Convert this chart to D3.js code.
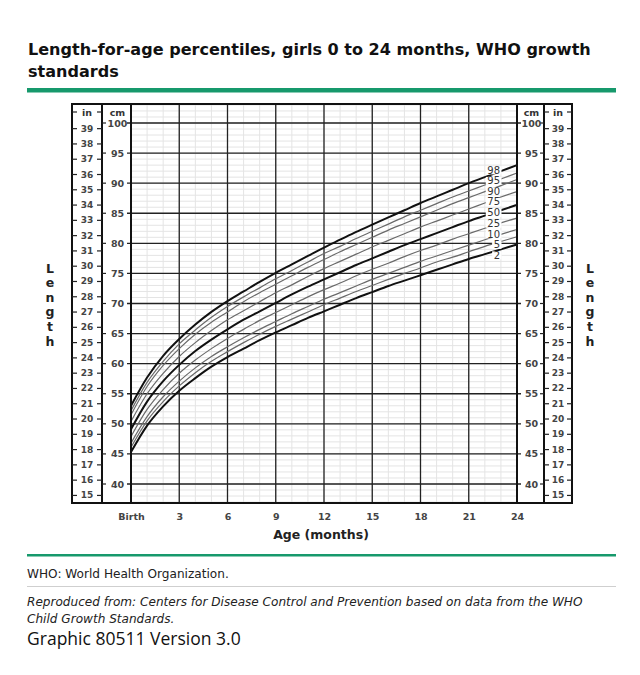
<!DOCTYPE html>
<html>
<head>
<meta charset="utf-8">
<script src="https://cdn.jsdelivr.net/npm/d3@7"></script>
<style>
body { margin: 0; background: #fff; }
svg { display: block; }
</style>
</head>
<body>
<svg id="chart" width="640" height="675"></svg>
<script>
// age in months
var months = [0,1,2,3,4,5,6,7,8,9,10,11,12,13,14,15,16,17,18,19,20,21,22,23,24];

// length (cm) per percentile
var p2  = [45.3,49.7,52.9,55.5,57.6,59.5,61.1,62.5,63.9,65.2,66.4,67.6,68.7,69.8,70.9,71.9,72.9,73.8,74.7,75.6,76.5,77.4,78.2,79.0,79.8];
var p5  = [46.1,50.5,53.7,56.3,58.5,60.4,62.0,63.5,64.9,66.2,67.4,68.6,69.8,70.9,72.0,73.0,74.0,75.0,75.9,76.9,77.7,78.6,79.5,80.3,81.1];
var p10 = [46.8,51.2,54.5,57.1,59.3,61.2,62.8,64.3,65.7,67.0,68.3,69.5,70.7,71.8,72.9,74.0,75.0,76.0,77.0,77.9,78.8,79.7,80.6,81.5,82.3];
var p25 = [47.9,52.4,55.7,58.4,60.6,62.5,64.2,65.7,67.2,68.5,69.8,71.1,72.3,73.4,74.6,75.7,76.7,77.8,78.8,79.7,80.7,81.6,82.5,83.4,84.2];
var p50 = [49.1,53.7,57.1,59.8,62.1,64.0,65.7,67.3,68.7,70.1,71.5,72.8,74.0,75.2,76.4,77.5,78.6,79.7,80.7,81.7,82.7,83.7,84.6,85.5,86.4];
var p75 = [50.4,55.0,58.4,61.2,63.5,65.5,67.3,68.8,70.3,71.8,73.1,74.5,75.8,77.0,78.2,79.4,80.5,81.6,82.7,83.7,84.7,85.7,86.7,87.7,88.6];
var p90 = [51.5,56.2,59.7,62.5,64.9,66.9,68.6,70.3,71.8,73.2,74.6,76.0,77.3,78.6,79.8,81.0,82.2,83.3,84.4,85.5,86.6,87.6,88.6,89.6,90.6];
var p95 = [52.2,56.9,60.4,63.3,65.6,67.7,69.5,71.1,72.6,74.1,75.5,76.9,78.3,79.5,80.8,82.0,83.2,84.4,85.5,86.6,87.7,88.7,89.7,90.7,91.7];
var p98 = [53.0,57.7,61.3,64.1,66.5,68.6,70.4,72.0,73.6,75.1,76.5,77.9,79.3,80.6,81.9,83.1,84.3,85.5,86.7,87.8,88.9,90.0,91.0,92.0,93.0];

var pctNames = ["2","5","10","25","50","75","90","95","98"];
var pctValues = [p2, p5, p10, p25, p50, p75, p90, p95, p98];
var boldCurves = ["2","50","98"];

// tick labels
var xTicks = [0,3,6,9,12,15,18,21,24];
var cmTicks = [40,45,50,55,60,65,70,75,80,85,90,95,100];
var inTicks = [15,16,17,18,19,20,21,22,23,24,25,26,27,28,29,30,31,32,33,34,35,36,37,38,39];

var titleLines = ["Length-for-age percentiles, girls 0 to 24 months, WHO growth", "standards"];
var yLabel = "Length";

var font = "Verdana, 'DejaVu Sans', sans-serif";
var green = "#17996c";

var svg = d3.select("#chart");

function fitWidth(sel, w) {
    var len = sel.node().getComputedTextLength();
    var fs = parseFloat(sel.attr("font-size"));
    sel.attr("font-size", fs * w / len);
}

// title
var t1 = svg.append("text").attr("x", 28).attr("y", 55)
    .attr("font-family", font).attr("font-weight", "bold").attr("font-size", 17)
    .attr("fill", "#111").text(titleLines[0]);
fitWidth(t1, 563);
svg.append("text").attr("x", 28).attr("y", 77)
    .attr("font-family", font).attr("font-weight", "bold").attr("font-size", t1.attr("font-size"))
    .attr("fill", "#111").text(titleLines[1]);

svg.append("rect").attr("x", 27).attr("y", 88).attr("width", 589).attr("height", 4.5).attr("fill", green);

// frame geometry
var frameL = 72, frameR = 572, frameT = 104, frameB = 503;
var inL = 72, inR = 102, cmL = 102, plotL = 131, plotR = 517, cmR2 = 544, inR2 = 572;

var x = d3.scaleLinear().domain([0, 24]).range([plotL, plotR]);
var y = d3.scaleLinear().domain([40, 100]).range([484, 123]);
var yIn = d3.scaleLinear().domain([40 / 2.54, 100 / 2.54]).range([y(40), y(100)]);

var g = svg.append("g");

// minor grid
var cmMin = Math.ceil(y.invert(frameB)), cmMax = Math.floor(y.invert(frameT));
g.append("g").selectAll("line").data(d3.range(cmMin, cmMax + 1)).join("line")
    .attr("x1", plotL).attr("x2", plotR)
    .attr("y1", d => y(d)).attr("y2", d => y(d))
    .attr("stroke", "#e4e4e4").attr("stroke-width", 1);
g.append("g").selectAll("line").data(months).join("line")
    .attr("x1", d => x(d)).attr("x2", d => x(d))
    .attr("y1", frameT).attr("y2", frameB)
    .attr("stroke", "#e4e4e4").attr("stroke-width", 1);

// major grid
g.append("g").selectAll("line").data(cmTicks).join("line")
    .attr("x1", plotL - 4).attr("x2", plotR + 4)
    .attr("y1", d => y(d)).attr("y2", d => y(d))
    .attr("stroke", "#222").attr("stroke-width", 1.3);
g.append("g").selectAll("line").data(xTicks.slice(1, -1)).join("line")
    .attr("x1", d => x(d)).attr("x2", d => x(d))
    .attr("y1", frameT).attr("y2", frameB)
    .attr("stroke", "#222").attr("stroke-width", 1.3);

// curves
var line = d3.line().x((d, i) => x(months[i])).y(d => y(d)).curve(d3.curveMonotoneX);
var curves = g.append("g");
pctNames.forEach(function (name, k) {
    var bold = boldCurves.indexOf(name) >= 0;
    curves.append("path").datum(pctValues[k])
        .attr("d", line)
        .attr("fill", "none")
        .attr("stroke", bold ? "#111" : "#6a6a6a")
        .attr("stroke-width", bold ? 2 : 1.2);
});

// curve labels near the right edge, spread apart so they don't overlap
var minGap = 10.5;
var labs = pctNames.map(function (name, k) {
    var v = pctValues[k];
    return { name: name, y: y((v[22] + v[23]) / 2) };
});
for (var it = 0; it < 400; it++) {
    for (var i = 0; i < labs.length - 1; i++) {
        var gap = labs[i].y - labs[i + 1].y;
        if (gap < minGap) {
            var push = (minGap - gap) / 2 + 0.01;
            labs[i].y += push;
            labs[i + 1].y -= push;
        }
    }
}
var labG = g.append("g");
labs.forEach(function (d) {
    var t = labG.append("text")
        .attr("x", 500).attr("y", d.y)
        .attr("text-anchor", "end").attr("dominant-baseline", "central")
        .attr("font-family", font).attr("font-size", 10).attr("fill", "#333")
        .text(d.name);
    var bb = t.node().getBBox();
    labG.insert("rect", "text").attr("x", bb.x - 1.5).attr("y", d.y - 4)
        .attr("width", bb.width + 3).attr("height", 8).attr("fill", "#fff");
});

// frame and column dividers
g.append("rect").attr("x", frameL).attr("y", frameT)
    .attr("width", frameR - frameL).attr("height", frameB - frameT)
    .attr("fill", "none").attr("stroke", "#111").attr("stroke-width", 2);
[inR, plotL, plotR, cmR2].forEach(function (xx) {
    g.append("line").attr("x1", xx).attr("x2", xx).attr("y1", frameT).attr("y2", frameB)
        .attr("stroke", "#111").attr("stroke-width", 2);
});

// side scales
function sideLabels(cx, ticks, scale, fs) {
    g.append("g").selectAll("text").data(ticks).join("text")
        .attr("x", cx).attr("y", d => scale(d))
        .attr("text-anchor", "middle").attr("dominant-baseline", "central")
        .attr("font-family", font).attr("font-weight", "bold").attr("font-size", fs)
        .attr("fill", "#444").text(d => d);
}
function sideTicks(x1, x2, ticks, scale) {
    g.append("g").selectAll("line").data(ticks).join("line")
        .attr("x1", x1).attr("x2", x2)
        .attr("y1", d => scale(d)).attr("y2", d => scale(d))
        .attr("stroke", "#222").attr("stroke-width", 1.2);
}
// left inch column
sideTicks(inL, inL + 5, inTicks, yIn);
sideTicks(inR - 5, inR, inTicks, yIn);
sideLabels((inL + inR) / 2, inTicks, yIn, 9);
// left cm column
sideTicks(cmL, cmL + 4, cmTicks, y);
sideLabels((cmL + plotL) / 2 + 1, cmTicks, y, 9.5);
// right cm column
sideTicks(cmR2 - 4, cmR2, cmTicks, y);
sideLabels((plotR + cmR2) / 2 + 1, cmTicks, y, 9.5);
// right inch column
sideTicks(cmR2, cmR2 + 5, inTicks, yIn);
sideTicks(inR2 - 5, inR2, inTicks, yIn);
sideLabels((cmR2 + inR2) / 2, inTicks, yIn, 9);

// unit headers
var headY = 112;
[[(inL + inR) / 2, "in"], [(cmL + plotL) / 2 + 1, "cm"], [(plotR + cmR2) / 2 + 1, "cm"], [(cmR2 + inR2) / 2, "in"]]
    .forEach(function (h) {
        g.append("text").attr("x", h[0]).attr("y", headY)
            .attr("text-anchor", "middle").attr("dominant-baseline", "central")
            .attr("font-family", font).attr("font-weight", "bold").attr("font-size", 9.5)
            .attr("fill", "#333").text(h[1]);
    });
[[inL, inL + 5], [inR - 5, inR], [cmR2, cmR2 + 5], [inR2 - 5, inR2]].forEach(function (s) {
    g.append("line").attr("x1", s[0]).attr("x2", s[1]).attr("y1", headY).attr("y2", headY)
        .attr("stroke", "#222").attr("stroke-width", 1.2);
});

// x axis
var xAxis = d3.axisBottom(x).tickValues(xTicks).tickSize(0).tickPadding(0)
    .tickFormat(d => d === 0 ? "Birth" : d);
var xg = svg.append("g").attr("transform", "translate(0," + 513 + ")").call(xAxis);
xg.select(".domain").remove();
xg.selectAll("text").attr("font-family", font).attr("font-weight", "bold")
    .attr("font-size", 9.5).attr("fill", "#444");

svg.append("text").attr("x", (plotL + plotR) / 2 - 3).attr("y", 539)
    .attr("text-anchor", "middle").attr("font-family", font).attr("font-weight", "bold")
    .attr("font-size", 12.5).attr("fill", "#222").text("Age (months)");

// vertical "Length" labels
[50, 590].forEach(function (cx) {
    svg.append("g").selectAll("text").data(yLabel.split("")).join("text")
        .attr("x", cx).attr("y", (d, i) => 268 + i * 14.6)
        .attr("text-anchor", "middle").attr("dominant-baseline", "central")
        .attr("font-family", font).attr("font-weight", "bold").attr("font-size", 12.5)
        .attr("fill", "#222").text(d => d);
});

// footer
svg.append("rect").attr("x", 27).attr("y", 554).attr("width", 589).attr("height", 2.5).attr("fill", green);
var f1 = svg.append("text").attr("x", 27).attr("y", 578)
    .attr("font-family", font).attr("font-size", 12.5).attr("fill", "#222")
    .text("WHO: World Health Organization.");
fitWidth(f1, 202);
svg.append("line").attr("x1", 27).attr("x2", 616).attr("y1", 586.5).attr("y2", 586.5)
    .attr("stroke", "#cfcfcf").attr("stroke-width", 1);
var f2 = svg.append("text").attr("x", 27).attr("y", 606)
    .attr("font-family", font).attr("font-style", "italic").attr("font-size", 12.5).attr("fill", "#222")
    .text("Reproduced from: Centers for Disease Control and Prevention based on data from the WHO");
fitWidth(f2, 556);
svg.append("text").attr("x", 27).attr("y", 623)
    .attr("font-family", font).attr("font-style", "italic").attr("font-size", f2.attr("font-size")).attr("fill", "#222")
    .text("Child Growth Standards.");
var f3 = svg.append("text").attr("x", 27).attr("y", 645)
    .attr("font-family", "'Open Sans', sans-serif").attr("font-size", 18).attr("fill", "#111")
    .text("Graphic 80511 Version 3.0");
fitWidth(f3, 214);
</script>
</body>
</html>
